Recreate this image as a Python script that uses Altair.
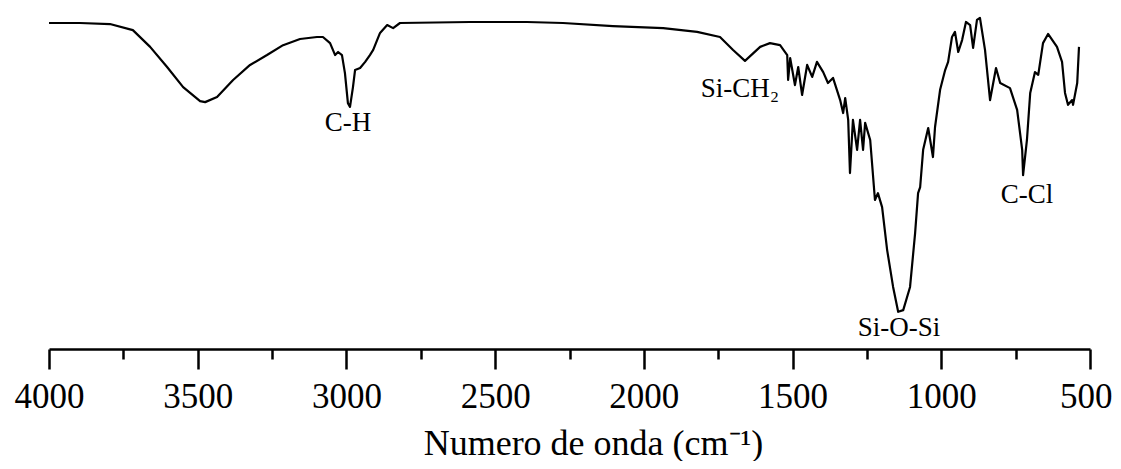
import altair as alt
import pandas as pd

# Wavenumber (cm-1) and transmittance (arbitrary %)
wavenumber = [4000, 3896, 3795, 3718, 3660, 3603, 3549, 3492, 3475, 3435, 3381, 3324, 3267, 3213,
              3156, 3099, 3079, 3055, 3038, 3028, 3015, 3005, 2995, 2988, 2978, 2971, 2954, 2937,
              2921, 2910, 2887, 2863, 2843, 2820, 2584, 2393, 2272, 2104, 1935, 1821, 1744, 1700,
              1660, 1609, 1576, 1542, 1518, 1515, 1508, 1492, 1481, 1468, 1451, 1434, 1418, 1397,
              1381, 1364, 1340, 1330, 1323, 1313, 1307, 1297, 1283, 1273, 1263, 1256, 1239, 1223,
              1213, 1199, 1182, 1162, 1145, 1128, 1105, 1088, 1078, 1071, 1061, 1044, 1028, 1021,
              1004, 987, 977, 964, 954, 943, 930, 917, 903, 893, 880, 870, 853, 836, 816, 802,
              769, 745, 728, 725, 712, 701, 685, 674, 658, 641, 611, 594, 584, 574, 560, 557,
              543, 537]
transmittance = [95.6, 95.6, 95.3, 93.5, 88.6, 82.7, 76.8, 72.7, 72.4, 73.9, 78.9, 83.3, 86.2, 89.1,
                 90.9, 91.5, 91.5, 89.7, 86.2, 87.1, 86.2, 80.9, 72.1, 71.0, 76.8, 81.8, 82.4, 84.2,
                 86.2, 87.7, 92.7, 95.0, 94.1, 95.6, 95.9, 95.9, 95.6, 94.7, 94.1, 93.0, 91.5, 87.7,
                 84.5, 88.6, 89.7, 89.1, 86.2, 78.9, 85.3, 77.4, 82.7, 74.5, 83.3, 79.8, 84.2, 81.2,
                 78.0, 79.5, 73.0, 69.2, 73.6, 67.2, 51.6, 67.2, 58.4, 67.2, 58.4, 66.3, 61.3, 43.7,
                 45.7, 41.6, 29.0, 18.2, 10.9, 11.4, 18.2, 34.0, 45.7, 47.5, 58.4, 64.8, 56.3, 65.1,
                 76.0, 81.8, 84.2, 91.5, 93.0, 87.1, 90.6, 95.9, 95.0, 88.3, 96.5, 97.1, 87.7, 73.0,
                 82.4, 78.0, 76.5, 70.1, 58.4, 51.0, 61.3, 75.1, 81.2, 80.4, 89.7, 92.4, 88.6, 84.2,
                 75.1, 71.6, 73.0, 71.6, 78.0, 88.6]

# Band annotations
band_labels = ["C-H", "Si-CH\u2082", "Si-O-Si", "C-Cl"]
band_wavenumber = [2995, 1677, 1142, 712]
band_transmittance = [63.9, 73.9, 3.8, 42.8]

tick_values = [4000, 3750, 3500, 3250, 3000, 2750, 2500, 2250, 2000, 1750, 1500, 1250, 1000, 750, 500]

spectrum = pd.DataFrame({"wn": wavenumber, "T": transmittance})
bands = pd.DataFrame({"label": band_labels, "wn": band_wavenumber, "T": band_transmittance})

FONT = "Liberation Serif"

x_scale = alt.Scale(domain=[4000, 500], nice=False, zero=False)
y_scale = alt.Scale(domain=[0, 100], nice=False, zero=False)

line = alt.Chart(spectrum).mark_line(color="black", strokeWidth=2.2, strokeJoin="round").encode(
    x=alt.X("wn:Q", scale=x_scale,
            axis=alt.Axis(
                values=tick_values,
                format="d",
                labelExpr="datum.value % 500 === 0 ? datum.label : ''",
                title="Numero de onda (cm\u207b\u00b9)",
                titleFont=FONT, titleFontSize=36, titleFontWeight="normal", titleColor="black",
                titleX=544, titleY=105, titleBaseline="alphabetic",
                labelFont=FONT, labelFontSize=35, labelColor="black", labelFontWeight="normal",
                labelBaseline="alphabetic", labelPadding=38,
                labelAlign={"condition": {"test": "datum.value === 500", "value": "right"}, "value": "center"},
                labelOffset={"condition": {"test": "datum.value === 500", "value": 22}, "value": 0},
                tickSize={"condition": {"test": "datum.value % 500 === 0", "value": 20}, "value": 10},
                tickWidth=2.5, tickColor="black",
                domainColor="black", domainWidth=2.5,
                grid=False, labelFlush=False, labelOverlap=False,
            )),
    y=alt.Y("T:Q", scale=y_scale, axis=None),
)

text = alt.Chart(bands).mark_text(font=FONT, fontSize=27, color="black", baseline="alphabetic", align="center").encode(
    x=alt.X("wn:Q", scale=x_scale),
    y=alt.Y("T:Q", scale=y_scale),
    text="label:N",
)

chart = (line + text).properties(
    width=1041, height=341,
    autosize=alt.AutoSizeParams(type="none"),
    padding={"left": 41, "top": 0, "right": 23, "bottom": 112},
    background="white",
).configure_view(stroke=None).configure_axis(
    labelFont=FONT, titleFont=FONT
).configure_text(font=FONT)

chart.save("out.html", embed_options={"renderer": "svg", "actions": False})
